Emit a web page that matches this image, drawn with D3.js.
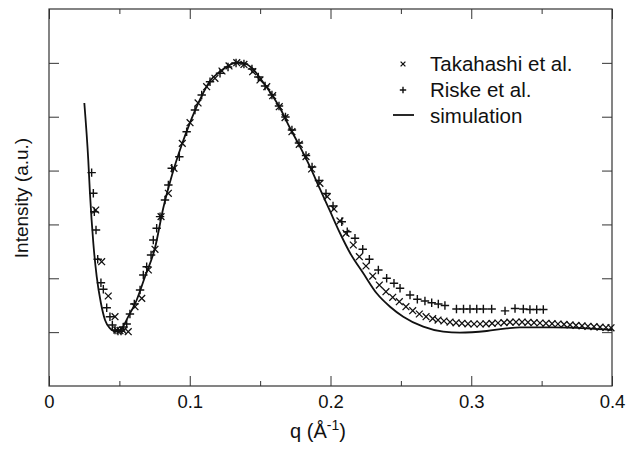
<!DOCTYPE html>
<html><head><meta charset="utf-8">
<script src="https://cdn.jsdelivr.net/npm/d3@7"></script>
<style>body{margin:0;background:#fff}svg{display:block}text{font-family:"Liberation Sans",Arial,sans-serif;fill:#111}</style>
</head><body>
<svg id="c" width="632" height="449"></svg>
<script>
// Simulation curve
const simQ = [0.0251,0.0279,0.0291,0.0315,0.0339,0.0369,0.0398,0.0433,0.0481,0.0517,0.0563,0.0623,0.0682,0.0753,0.0812,0.0872,0.0947,0.1002,0.1073,0.1144,0.1215,0.1298,0.1343,0.1393,0.1442,0.1499,0.1570,0.1641,0.1712,0.1783,0.1854,0.1925,0.1996,0.2067,0.2139,0.2233,0.2328,0.2423,0.2517,0.2659,0.2801,0.2920,0.3110,0.3252,0.3346,0.3583,0.3820,0.4000];
const simI = [5.255,4.196,3.578,2.650,2.030,1.536,1.225,1.071,1.008,1.071,1.287,1.597,2.029,2.562,3.305,3.899,4.506,4.889,5.320,5.663,5.840,5.979,6.007,5.988,5.905,5.719,5.459,5.162,4.791,4.444,4.072,3.658,3.250,2.841,2.470,2.093,1.721,1.472,1.287,1.101,1.008,0.990,1.021,1.071,1.090,1.090,1.071,1.040];

// Takahashi et al. (x markers)
const takQ = [0.0332,0.0374,0.0421,0.0469,0.0481,0.0504,0.0528,0.0563,0.0611,0.0659,0.0706,0.0753,0.0796,0.0848,0.0888,0.0947,0.1002,0.1059,0.1120,0.1179,0.1229,0.1279,0.1334,0.1385,0.1447,0.1499,0.1547,0.1589,0.1636,0.1677,0.1726,0.1778,0.1826,0.1866,0.1925,0.1977,0.2025,0.2067,0.2110,0.2162,0.2205,0.2252,0.2300,0.2347,0.2394,0.2442,0.2489,0.2536,0.2584,0.2631,0.2679,0.2726,0.2764,0.2806,0.2849,0.2892,0.2934,0.2977,0.3020,0.3063,0.3105,0.3148,0.3190,0.3233,0.3275,0.3318,0.3361,0.3403,0.3446,0.3488,0.3531,0.3574,0.3616,0.3659,0.3702,0.3744,0.3787,0.3829,0.3872,0.3915,0.3957,0.3993];
const takI = [3.268,2.308,1.671,1.287,1.040,1.027,1.027,1.008,1.472,1.628,2.154,2.538,3.144,3.578,4.042,4.506,4.889,5.255,5.557,5.713,5.849,5.942,6.003,5.970,5.836,5.682,5.557,5.390,5.186,4.982,4.722,4.488,4.258,4.029,3.764,3.515,3.287,3.064,2.835,2.618,2.401,2.228,2.042,1.875,1.751,1.647,1.565,1.472,1.398,1.337,1.287,1.250,1.225,1.207,1.188,1.174,1.164,1.155,1.151,1.151,1.155,1.162,1.170,1.177,1.185,1.188,1.188,1.183,1.175,1.170,1.164,1.157,1.151,1.144,1.135,1.125,1.116,1.109,1.101,1.094,1.086,1.081];

// Riske et al. (+ markers)
const risQ = [0.0303,0.0315,0.0322,0.0334,0.0346,0.0369,0.0386,0.0410,0.0433,0.0450,0.0469,0.0490,0.0512,0.0529,0.0552,0.0575,0.0606,0.0647,0.0670,0.0694,0.0725,0.0741,0.0765,0.0789,0.0824,0.0848,0.0872,0.0926,0.0978,0.1037,0.1085,0.1144,0.1215,0.1272,0.1329,0.1385,0.1442,0.1487,0.1535,0.1584,0.1634,0.1680,0.1726,0.1776,0.1826,0.1869,0.1918,0.1968,0.2018,0.2080,0.2119,0.2174,0.2229,0.2276,0.2340,0.2399,0.2451,0.2494,0.2565,0.2617,0.2671,0.2719,0.2766,0.2813,0.2895,0.2945,0.2991,0.3039,0.3086,0.3145,0.3240,0.3311,0.3370,0.3417,0.3465,0.3512];
const risI = [3.961,3.578,3.236,2.897,2.353,1.918,1.796,1.454,1.287,1.133,1.040,1.021,1.021,1.096,1.151,1.337,1.523,1.783,2.061,2.215,2.432,2.711,2.928,3.144,3.454,3.732,4.042,4.258,4.722,5.125,5.403,5.650,5.806,5.923,5.997,5.979,5.886,5.738,5.570,5.403,5.199,4.995,4.753,4.512,4.280,4.066,3.816,3.574,3.342,3.051,2.865,2.742,2.538,2.353,2.154,2.000,1.907,1.814,1.690,1.610,1.578,1.547,1.523,1.495,1.430,1.430,1.430,1.430,1.430,1.430,1.395,1.440,1.430,1.420,1.420,1.420];

const xMajor = [0, 0.1, 0.2, 0.3, 0.4];
const xMinor = [0.05, 0.15, 0.25, 0.35];
const yTicks = [1, 2, 3, 4, 5, 6];
const legendLabels = ["Takahashi et al.", "Riske et al.", "simulation"];

const L = 49, R = 612, T = 9, B = 386;
const svg = d3.select("#c");
const x = d3.scaleLinear().domain([0, 0.4]).range([L, R]);
const y = d3.scaleLinear().domain([0, 7]).range([B, T]);
const col = "#111";

// ticks (inside, all four sides)
const gAx = svg.append("g");
gAx.append("g").attr("transform", `translate(0,${B})`)
  .call(d3.axisBottom(x).tickValues(xMajor).tickSize(-10).tickPadding(9).tickFormat(d => d === 0 ? "0" : d3.format(".1f")(d)))
  .call(g => g.select(".domain").remove());
gAx.append("g").attr("transform", `translate(0,${B})`)
  .call(d3.axisBottom(x).tickValues(xMinor).tickSize(-5).tickFormat(""))
  .call(g => g.select(".domain").remove());
gAx.append("g").attr("transform", `translate(0,${T})`)
  .call(d3.axisTop(x).tickValues(xMajor).tickSize(-10).tickFormat(""))
  .call(g => g.select(".domain").remove());
gAx.append("g").attr("transform", `translate(0,${T})`)
  .call(d3.axisTop(x).tickValues(xMinor).tickSize(-5).tickFormat(""))
  .call(g => g.select(".domain").remove());
gAx.append("g").attr("transform", `translate(${L},0)`)
  .call(d3.axisLeft(y).tickValues(yTicks).tickSize(-10).tickFormat(""))
  .call(g => g.select(".domain").remove());
gAx.append("g").attr("transform", `translate(${R},0)`)
  .call(d3.axisRight(y).tickValues(yTicks).tickSize(-10).tickFormat(""))
  .call(g => g.select(".domain").remove());
gAx.selectAll("line").attr("stroke", "#333").attr("stroke-width", 1);
gAx.selectAll("text").attr("font-size", 18.5).attr("fill", col)
  .attr("font-family", '"Liberation Sans",Arial,sans-serif');

svg.append("rect").attr("x", L).attr("y", T).attr("width", R - L).attr("height", B - T)
  .attr("fill", "none").attr("stroke", "#333").attr("stroke-width", 1.2);

// simulation line
const sim = simQ.map((q, i) => [q, simI[i]]);
svg.append("path").datum(sim)
  .attr("d", d3.line().x(d => x(d[0])).y(d => y(d[1])).curve(d3.curveMonotoneX))
  .attr("fill", "none").attr("stroke", col).attr("stroke-width", 1.8);

function cross(g, s) { // x marker
  g.append("path").attr("d", `M${-s},${-s}L${s},${s}M${-s},${s}L${s},${-s}`)
    .attr("stroke", col).attr("stroke-width", 1.3).attr("fill", "none");
}
function plus(g, s) { // + marker
  g.append("path").attr("d", `M${-s},0L${s},0M0,${-s}L0,${s}`)
    .attr("stroke", col).attr("stroke-width", 1.4).attr("fill", "none");
}
const tak = takQ.map((q, i) => [q, takI[i]]);
const ris = risQ.map((q, i) => [q, risI[i]]);
svg.append("g").selectAll("g").data(tak).join("g")
  .attr("transform", d => `translate(${x(d[0])},${y(d[1])})`).each(function () { cross(d3.select(this), 3.4); });
svg.append("g").selectAll("g").data(ris).join("g")
  .attr("transform", d => `translate(${x(d[0])},${y(d[1])})`).each(function () { plus(d3.select(this), 4.2); });

// legend
const lg = svg.append("g");
const rowsY = [71, 97, 122.5];
legendLabels.forEach((t, i) => {
  lg.append("text").attr("x", 430).attr("y", rowsY[i]).attr("font-size", 20.5).text(t);
});
cross(lg.append("g").attr("transform", "translate(403,64)"), 2.4);
plus(lg.append("g").attr("transform", "translate(403,90)"), 3.2);
lg.append("line").attr("x1", 393).attr("x2", 414).attr("y1", 115).attr("y2", 115)
  .attr("stroke", col).attr("stroke-width", 1.8);

// axis titles
const xt = svg.append("text").attr("x", 318).attr("y", 438).attr("text-anchor", "middle").attr("font-size", 20);
xt.append("tspan").text("q (Å");
xt.append("tspan").attr("dy", -8).attr("font-size", 14).text("-1");
xt.append("tspan").attr("dy", 8).text(")");
svg.append("text").attr("transform", "translate(28,198) rotate(-90)")
  .attr("text-anchor", "middle").attr("font-size", 19).text("Intensity (a.u.)");
</script>
</body></html>
